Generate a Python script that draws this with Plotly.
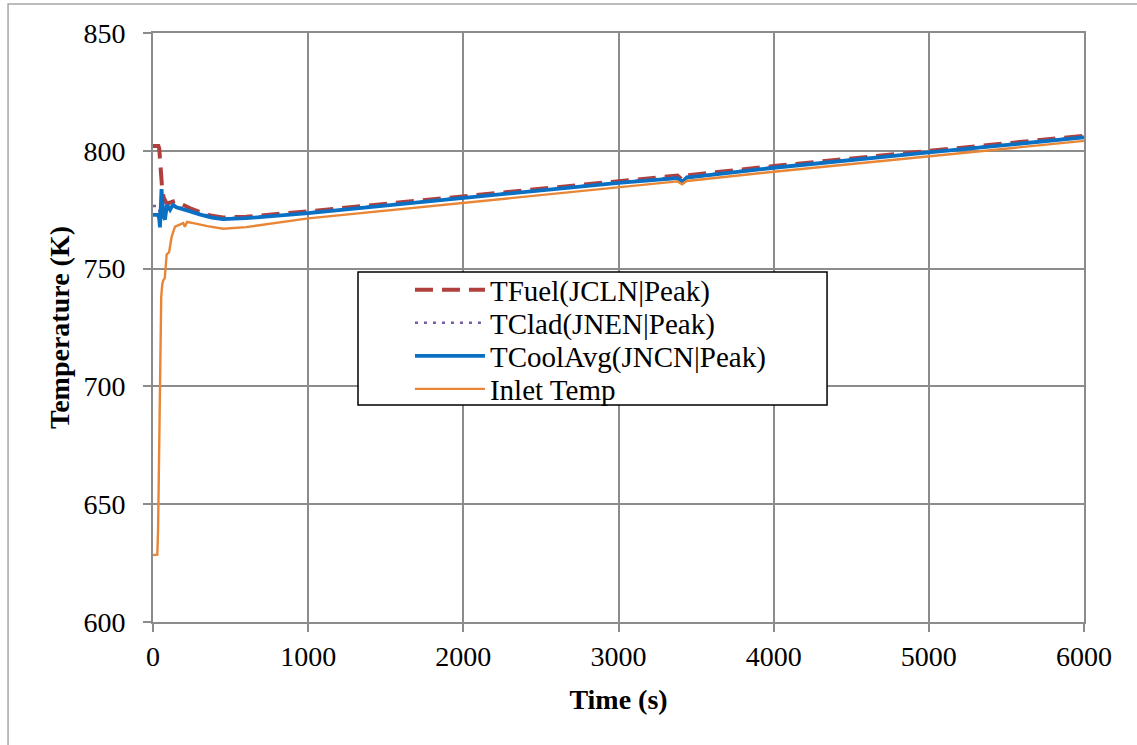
import plotly.graph_objects as go

# ---- data ----
t_fuel = [0, 35, 40, 45, 50, 55, 60, 70, 85, 100, 120, 142, 170, 200, 240, 300, 380, 450, 600, 1000,
          2000, 3000, 3380, 3410, 3440, 4000, 5000, 6000]
T_fuel = [802.0, 802.0, 801.0, 797.0, 791.0, 786.0, 783.0, 780.0, 778.0, 777.8, 778.5, 778.8, 777.8, 776.8,
          775.6, 774.0, 772.4, 771.7, 772.0, 774.3, 780.7, 787.1, 789.5, 787.7, 789.6, 793.5, 800.0, 806.4]

t_clad = [0, 34, 40, 45, 50, 55, 60, 70, 80, 90, 110, 131, 174, 206, 240, 300, 450, 600, 1000,
          2000, 3000, 3380, 3410, 3440, 4000, 5000, 6000]
T_clad = [776.6, 776.6, 775.0, 771.0, 777.0, 782.0, 779.0, 774.0, 773.5, 777.0, 775.8, 777.3, 776.0, 775.4,
          774.7, 773.4, 771.3, 771.7, 773.8, 780.2, 786.6, 789.0, 787.2, 789.0, 793.0, 799.6, 806.0]

t_cool = [0, 34, 40, 45, 50, 55, 60, 68, 77, 84, 90, 100, 110, 120, 131, 150, 174, 190, 206, 225, 240,
          300, 380, 450, 600, 1000, 2000, 3000, 3380, 3410, 3440, 4000, 5000, 6000]
T_cool = [772.8, 772.8, 771.0, 767.5, 776.0, 783.7, 779.0, 772.0, 770.8, 774.0, 777.0, 776.0, 775.0, 776.2,
          777.0, 776.0, 775.6, 775.4, 775.0, 774.6, 774.3, 773.0, 771.6, 771.0, 771.4, 773.5, 780.0, 786.4,
          788.4, 786.8, 788.6, 792.8, 799.3, 805.7]

t_inlet = [0, 28, 33, 38, 43, 48, 53, 60, 66, 76, 82, 88, 104, 110, 120, 142, 170, 195, 205, 220, 260,
           350, 453, 600, 1000, 2000, 3000, 3380, 3410, 3440, 4000, 5000, 6000]
T_inlet = [628.4, 628.6, 640.0, 665.0, 695.0, 722.0, 738.0, 743.5, 745.0, 746.0, 752.0, 756.0, 757.0, 759.0,
           763.5, 767.8, 768.5, 769.3, 767.8, 769.8, 769.3, 768.0, 766.9, 767.6, 771.3, 777.9, 784.5,
           787.0, 785.8, 787.2, 791.1, 797.6, 804.2]

names = ["TFuel(JCLN|Peak)", "TClad(JNEN|Peak)", "TCoolAvg(JNCN|Peak)", "Inlet Temp"]
x_ticks = [0, 1000, 2000, 3000, 4000, 5000, 6000]
y_ticks = [600, 650, 700, 750, 800, 850]

FONT = "Liberation Serif, Times New Roman, serif"
GRID = "#8c8c8c"

fig = go.Figure()
fig.add_trace(go.Scatter(x=t_fuel, y=T_fuel, mode="lines", name=names[0], legend="legend",
                         line=dict(color="#B0403D", width=4, dash="18px,9px")))
fig.add_trace(go.Scatter(x=t_clad, y=T_clad, mode="lines", name=names[1], legend="legend2",
                         line=dict(color="#7A5AA6", width=2.5, dash="3px,6px")))
fig.add_trace(go.Scatter(x=t_cool, y=T_cool, mode="lines", name=names[2], legend="legend3",
                         line=dict(color="#0A70C4", width=3.8)))
fig.add_trace(go.Scatter(x=t_inlet, y=T_inlet, mode="lines", name=names[3], legend="legend4",
                         line=dict(color="#E88635", width=2.4)))

# outer chart frame and legend box
fig.add_shape(type="rect", xref="paper", yref="paper", x0=-0.1557, x1=1.2, y0=-0.4, y1=1.0492,
              line=dict(color="#a6a6a6", width=1.5), fillcolor="rgba(0,0,0,0)", layer="below")
fig.add_shape(type="rect", xref="paper", yref="paper", x0=0.2202, x1=0.724, y0=0.3684, y1=0.5942,
              line=dict(color="black", width=1.5), fillcolor="white", layer="above")

def leg(yc):
    return dict(x=0.276, y=yc, xanchor="left", yanchor="middle",
                bgcolor="rgba(0,0,0,0)", borderwidth=0,
                font=dict(family=FONT, size=29, color="black"),
                itemwidth=70, tracegroupgap=0)

fig.update_layout(
    width=1137, height=745,
    margin=dict(l=153, r=53, t=33, b=123),
    paper_bgcolor="white", plot_bgcolor="white",
    font=dict(family=FONT, size=28, color="black"),
    showlegend=True,
    legend=leg(0.5637), legend2=leg(0.5076), legend3=leg(0.4516), legend4=leg(0.3956),
)
fig.update_xaxes(range=[0, 6000], tickvals=x_ticks, showgrid=True, gridcolor=GRID, gridwidth=2,
                 showline=True, linecolor=GRID, linewidth=2, mirror=True,
                 ticks="outside", ticklen=8, tickcolor=GRID, tickwidth=2,
                 tickfont=dict(family=FONT, size=28, color="black"), zeroline=False,
                 title=dict(text="<b>Time (s)</b>", font=dict(family=FONT, size=28, color="black"), standoff=19))
fig.update_yaxes(range=[600, 850], tickvals=y_ticks, showgrid=True, gridcolor=GRID, gridwidth=2,
                 showline=True, linecolor=GRID, linewidth=2, mirror=True,
                 ticks="outside", ticklen=8, tickcolor=GRID, tickwidth=2, ticklabelstandoff=12,
                 tickfont=dict(family=FONT, size=28, color="black"), zeroline=False,
                 title=dict(text="<b>Temperature (K)</b>", font=dict(family=FONT, size=28, color="black"), standoff=6))

fig.write_html("out.html", config={"displayModeBar": False},
               post_script="document.body.style.margin='0';")
